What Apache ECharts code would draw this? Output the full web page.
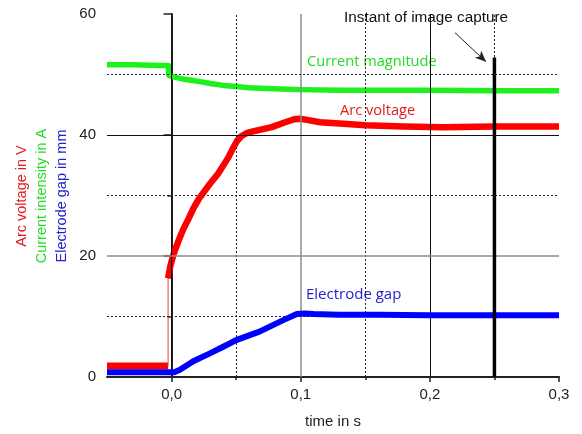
<!DOCTYPE html>
<html>
<head>
<meta charset="utf-8">
<script src="https://cdn.jsdelivr.net/npm/echarts@6/dist/echarts.min.js"></script>
<style>
  html, body { margin: 0; padding: 0; background: #fff; }
  #chart { width: 582px; height: 434px; }
</style>
</head>
<body>
<div id="chart"></div>
<script>
// Time axis (s) and value axis
const xMajorTicks = [0, 0.1, 0.2, 0.3];
const xMinorTicks = [0.05, 0.15, 0.25];
const yMajorTicks = [0, 20, 40, 60];

// Current magnitude (A)
const currentData = [
  [-0.05, 51.6], [-0.03, 51.6], [-0.01, 51.5], [-0.0025, 51.5],
  [-0.0022, 49.9], [0.0, 49.7], [0.01, 49.2], [0.02, 48.9], [0.03, 48.5],
  [0.04, 48.2], [0.05, 48.0], [0.06, 47.8], [0.073, 47.7], [0.085, 47.6],
  [0.1, 47.5], [0.13, 47.4], [0.16, 47.4], [0.2, 47.4], [0.25, 47.3], [0.3, 47.3]
];

// Arc voltage (V): idle level, ignition jump, then rising arc
const voltagePre = [[-0.05, 1.8], [-0.03, 1.8], [-0.01, 1.8], [-0.0027, 1.8]];
const voltageJump = [[-0.0027, 1.8], [-0.0027, 16.5]];
const voltageArc = [
  [-0.0027, 16.3], [-0.001, 18.3], [0.0, 19.1], [0.002, 20.6], [0.005, 22.3],
  [0.009, 24.4], [0.013, 26.1], [0.017, 27.9], [0.021, 29.4], [0.0285, 31.6],
  [0.036, 33.6], [0.044, 36.3], [0.048, 38.0], [0.051, 39.1], [0.054, 39.8],
  [0.058, 40.3], [0.063, 40.6], [0.069, 40.9], [0.0775, 41.3], [0.088, 42.1],
  [0.095, 42.6], [0.099, 42.7], [0.105, 42.5], [0.115, 42.1], [0.13, 41.9],
  [0.15, 41.6], [0.18, 41.4], [0.21, 41.3], [0.25, 41.4], [0.3, 41.4]
];

// Electrode gap (mm)
const gapData = [
  [-0.05, 0.8], [-0.03, 0.8], [-0.01, 0.8], [0.0, 0.8], [0.002, 0.8],
  [0.0065, 1.2], [0.0168, 2.6], [0.0297, 3.9], [0.04, 5.0], [0.05, 6.1],
  [0.068, 7.5], [0.0865, 9.4], [0.097, 10.4], [0.103, 10.5], [0.11, 10.4],
  [0.13, 10.3], [0.16, 10.3], [0.2, 10.2], [0.25, 10.2], [0.3, 10.2]
];

// Image capture marker
const captureTime = 0.25;
const captureTop = 52.8;
const arrowFrom = [0.2195, 56.9];
const arrowTo = [0.2435, 52.1];

const fmt = v => v.toFixed(1).replace('.', ',');

const chart = echarts.init(document.getElementById('chart'), null, { renderer: 'canvas' });

const sansFont = '"Liberation Sans", Arial, sans-serif';
const labelFont = '"Open Sans", "Liberation Sans", sans-serif';

chart.setOption({
  animation: false,
  backgroundColor: '#ffffff',
  grid: { left: 107, right: 23, top: 14, bottom: 55 },
  xAxis: [{
    type: 'value', min: -0.05, max: 0.3,
    axisLine: { show: true, onZero: false, lineStyle: { color: '#222', width: 2 } },
    axisTick: { show: true, customValues: xMajorTicks, length: 5, lineStyle: { color: '#222', width: 1.5 } },
    axisLabel: { customValues: xMajorTicks, formatter: fmt, color: '#222', fontSize: 15, fontFamily: sansFont, margin: 10 },
    splitLine: { show: false },
    name: 'time in s', nameLocation: 'middle', nameGap: 37,
    nameTextStyle: { color: '#222', fontSize: 15, fontFamily: sansFont }
  }, {
    type: 'value', min: -0.05, max: 0.3, position: 'bottom',
    axisLine: { show: false },
    axisTick: { show: true, customValues: xMinorTicks, length: 3, lineStyle: { color: '#222', width: 1.5 } },
    axisLabel: { show: false },
    splitLine: { show: false }
  }],
  yAxis: {
    type: 'value', min: 0, max: 60, interval: 20,
    axisLine: { show: true, lineStyle: { color: '#222', width: 2 } },
    axisTick: { show: true, length: 8, lineStyle: { color: '#222', width: 1.5 } },
    minorTick: { show: true, splitNumber: 2, length: 4, lineStyle: { color: '#222', width: 1.5 } },
    axisLabel: { color: '#222', fontSize: 15, fontFamily: sansFont, margin: 11 },
    splitLine: { show: false }
  },
  graphic: [
    { type: 'text', x: 22, y: 196, rotation: Math.PI / 2,
      style: { text: 'Arc voltage in V', fill: '#e41a1a', font: '14.5px ' + sansFont, align: 'center', verticalAlign: 'middle' } },
    { type: 'text', x: 42, y: 196, rotation: Math.PI / 2,
      style: { text: 'Current intensity in A', fill: '#22dd22', font: '14.5px ' + sansFont, align: 'center', verticalAlign: 'middle' } },
    { type: 'text', x: 62, y: 196, rotation: Math.PI / 2,
      style: { text: 'Electrode gap in mm', fill: '#2222cc', font: '14.5px ' + sansFont, align: 'center', verticalAlign: 'middle' } },
    { type: 'text', x: 307, y: 62,
      style: { text: 'Current magnitude', fill: '#22dd22', font: '14.6px ' + labelFont, align: 'left', verticalAlign: 'middle' } },
    { type: 'text', x: 340, y: 111,
      style: { text: 'Arc voltage', fill: '#e41a1a', font: '14.6px ' + labelFont, align: 'left', verticalAlign: 'middle' } },
    { type: 'text', x: 306, y: 295,
      style: { text: 'Electrode gap', fill: '#2222cc', font: '15px ' + labelFont, align: 'left', verticalAlign: 'middle' } },
    { type: 'text', x: 344, y: 18,
      style: { text: 'Instant of image capture', fill: '#111', font: '15.3px ' + sansFont, align: 'left', verticalAlign: 'middle' } }
  ],
  series: [
    {
      // background grid lines
      type: 'line', data: [], z: 1, silent: true,
      markLine: {
        silent: true, symbol: 'none', label: { show: false },
        lineStyle: { color: '#111', width: 1, type: 'solid' },
        data: [
          { xAxis: 0, lineStyle: { color: '#111', width: 1, type: 'solid' } },
          { xAxis: 0.05, lineStyle: { color: '#222', width: 1, type: [2, 2] } },
          { xAxis: 0.1, lineStyle: { color: '#8c8c8c', width: 1.5, type: 'solid' } },
          { xAxis: 0.15, lineStyle: { color: '#222', width: 1, type: [2, 2] } },
          { xAxis: 0.2, lineStyle: { color: '#111', width: 1, type: 'solid' } },
          { xAxis: 0.25, lineStyle: { color: '#222', width: 1, type: [2, 2] } },
          { yAxis: 10, lineStyle: { color: '#222', width: 1, type: [2, 2] } },
          { yAxis: 20, lineStyle: { color: '#8c8c8c', width: 1.5, type: 'solid' } },
          { yAxis: 30, lineStyle: { color: '#222', width: 1, type: [2, 2] } },
          { yAxis: 40, lineStyle: { color: '#111', width: 1, type: 'solid' } },
          { yAxis: 50, lineStyle: { color: '#222', width: 1, type: [2, 2] } }
        ]
      }
    },
    { name: 'Current magnitude', type: 'line', data: currentData, showSymbol: false, z: 3,
      lineStyle: { color: '#1ef01e', width: 5.5, join: 'round' } },
    { name: 'Arc voltage idle', type: 'line', data: voltagePre, showSymbol: false, z: 4,
      lineStyle: { color: '#ff0000', width: 7 } },
    { name: 'Arc ignition', type: 'line', data: voltageJump, showSymbol: false, z: 4,
      lineStyle: { color: '#f04040', width: 1 } },
    { name: 'Arc voltage', type: 'line', data: voltageArc, showSymbol: false, z: 4,
      lineStyle: { color: '#ff0000', width: 6.5, join: 'round' } },
    { name: 'Electrode gap', type: 'line', data: gapData, showSymbol: false, z: 5,
      lineStyle: { color: '#0000ff', width: 6, join: 'round' } },
    { name: 'Image capture', type: 'line', data: [[captureTime, 0], [captureTime, captureTop]],
      showSymbol: false, z: 6, lineStyle: { color: '#000', width: 3.5 },
      markLine: {
        silent: true, symbol: ['none', 'arrow'], symbolSize: [7, 11], label: { show: false },
        lineStyle: { color: '#222', width: 1, type: 'solid' },
        data: [[{ coord: arrowFrom }, { coord: arrowTo }]]
      }
    }
  ]
});
</script>
</body>
</html>
